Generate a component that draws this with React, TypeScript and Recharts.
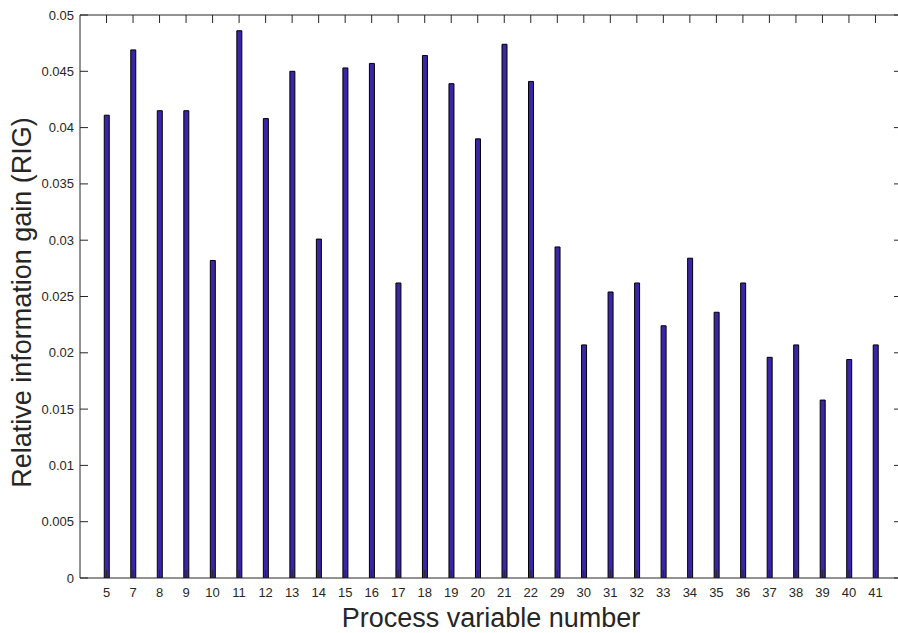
import { BarChart, Bar, XAxis, YAxis, Label } from "recharts";

// Process variables shown on the x axis, in plotted order
const variableNumbers = [
  5, 7, 8, 9, 10, 11, 12, 13, 14, 15, 16, 17, 18, 19, 20, 21, 22,
  29, 30, 31, 32, 33, 34, 35, 36, 37, 38, 39, 40, 41,
];

// Relative information gain for each variable
const rigValues = [
  0.0411, 0.0469, 0.0415, 0.0415, 0.0282, 0.0486, 0.0408, 0.045, 0.0301,
  0.0453, 0.0457, 0.0262, 0.0464, 0.0439, 0.039, 0.0474, 0.0441,
  0.0294, 0.0207, 0.0254, 0.0262, 0.0224, 0.0284, 0.0236, 0.0262, 0.0196,
  0.0207, 0.0158, 0.0194, 0.0207,
];

const yTicks = [
  0, 0.005, 0.01, 0.015, 0.02, 0.025, 0.03, 0.035, 0.04, 0.045, 0.05,
];

const AXIS = "#262626";
const FONT = "'Liberation Sans', Arial, Helvetica, sans-serif";
const TICK_LEN = 8;

const data = variableNumbers.map((num, i) => ({
  pos: i + 1,
  num,
  rig: rigValues[i],
}));
const xTicks = data.map((d) => d.pos);

// inward tick marks, matlab style; labels only on bottom/left
const BottomTick = ({ x, y, payload }: any) => (
  <g>
    <line x1={x} y1={y} x2={x} y2={y - TICK_LEN} stroke={AXIS} />
    <text
      x={x}
      y={y + 19}
      textAnchor="middle"
      fontSize={13}
      fontFamily={FONT}
      fill={AXIS}
    >
      {variableNumbers[payload.value - 1]}
    </text>
  </g>
);

const TopTick = ({ x, y }: any) => (
  <line x1={x} y1={y} x2={x} y2={y + TICK_LEN} stroke={AXIS} />
);

const LeftTick = ({ x, y, payload }: any) => (
  <g>
    <line x1={x} y1={y} x2={x + TICK_LEN} y2={y} stroke={AXIS} />
    <text
      x={x - 6}
      y={y + 4.5}
      textAnchor="end"
      fontSize={13}
      fontFamily={FONT}
      fill={AXIS}
    >
      {String(payload.value)}
    </text>
  </g>
);

const RightTick = ({ x, y }: any) => (
  <line x1={x} y1={y} x2={x - TICK_LEN} y2={y} stroke={AXIS} />
);

export default function App() {
  return (
    <div
      style={{
        position: "absolute",
        left: 0,
        top: 0,
        width: 898,
        height: 633,
        overflow: "hidden",
        background: "#fff",
      }}
    >
      <BarChart
        width={910}
        height={633}
        data={data}
        margin={{ top: 14, right: 7, bottom: 0, left: 0 }}
        barSize={5}
      >
        <XAxis
          dataKey="pos"
          type="number"
          domain={[0, 31]}
          ticks={xTicks}
          interval={0}
          allowDataOverflow
          height={55}
          tick={<BottomTick />}
          tickSize={0}
          tickMargin={0}
          tickLine={false}
          axisLine={{ stroke: AXIS }}
        >
          <Label
            content={({ viewBox }: any) => (
              <text
                x={viewBox.x + viewBox.width / 2}
                y={627}
                textAnchor="middle"
                fontSize={27}
                fontFamily={FONT}
                fill={AXIS}
              >
                Process variable number
              </text>
            )}
          />
        </XAxis>
        <XAxis
          xAxisId="top"
          orientation="top"
          dataKey="pos"
          type="number"
          domain={[0, 31]}
          ticks={xTicks}
          interval={0}
          allowDataOverflow
          height={1}
          tick={<TopTick />}
          tickSize={0}
          tickMargin={0}
          tickLine={false}
          axisLine={{ stroke: AXIS }}
        />
        <YAxis
          type="number"
          domain={[0, 0.05]}
          ticks={yTicks}
          interval={0}
          allowDataOverflow
          width={80}
          tick={<LeftTick />}
          tickSize={0}
          tickMargin={0}
          tickLine={false}
          axisLine={{ stroke: AXIS }}
        >
          <Label
            content={({ viewBox }: any) => {
              const cx = 31;
              const cy = viewBox.y + viewBox.height / 2 + 6;
              return (
                <text
                  x={cx}
                  y={cy}
                  transform={`rotate(-90 ${cx} ${cy})`}
                  textAnchor="middle"
                  fontSize={27}
                  fontFamily={FONT}
                  fill={AXIS}
                >
                  Relative information gain (RIG)
                </text>
              );
            }}
          />
        </YAxis>
        <YAxis
          yAxisId="right"
          orientation="right"
          type="number"
          domain={[0, 0.05]}
          ticks={yTicks}
          interval={0}
          allowDataOverflow
          width={1}
          tick={<RightTick />}
          tickSize={0}
          tickMargin={0}
          tickLine={false}
          axisLine={{ stroke: AXIS }}
        />
        <Bar
          dataKey="rig"
          fill="#3a26a6"
          stroke="#000"
          strokeWidth={1}
          isAnimationActive={false}
        />
      </BarChart>
    </div>
  );
}
